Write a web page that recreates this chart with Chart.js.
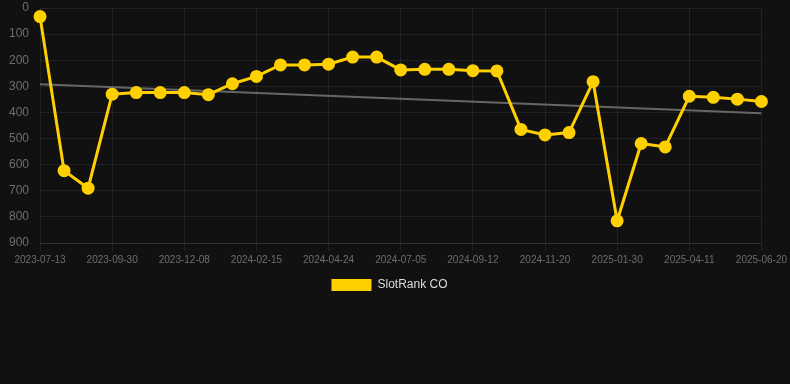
<!DOCTYPE html>
<html>
<head>
<meta charset="utf-8">
<script src="https://cdn.jsdelivr.net/npm/chart.js@4"></script>
<style>
  html, body { margin: 0; padding: 0; background: #111111; }
  #wrap { width: 790px; height: 301px; position: relative; }
</style>
</head>
<body>
<div id="wrap"><canvas id="c"></canvas></div>
<script>
const dates = [
  "2023-07-13","2023-08-08","2023-09-04","2023-09-30","2023-10-23","2023-11-15",
  "2023-12-08","2023-12-31","2024-01-23","2024-02-15","2024-03-09","2024-04-01",
  "2024-04-24","2024-05-18","2024-06-11","2024-07-05","2024-07-28","2024-08-20",
  "2024-09-12","2024-10-05","2024-10-28","2024-11-20","2024-12-14","2025-01-06",
  "2025-01-30","2025-02-23","2025-03-18","2025-04-11","2025-05-04","2025-05-27",
  "2025-06-20"
];
const rankValues = [
  33, 623, 690, 330, 324, 324,
  324, 332, 290, 262, 218, 218,
  215, 188, 188, 237, 235, 235,
  240, 241, 465, 486, 477, 282,
  815, 519, 532, 338, 342, 349,
  358
];
const trendStart = 292;
const trendEnd = 403;
const yTicks = [0,100,200,300,400,500,600,700,800,900];
const seriesName = "SlotRank CO";

const trendData = dates.map((d, i) => i === 0 ? trendStart : (i === dates.length - 1 ? trendEnd : null));

const font = "'Liberation Sans', Arial, Helvetica, sans-serif";
const gridCol = 'rgba(255,255,255,0.07)';

new Chart(document.getElementById('c'), {
  type: 'line',
  data: {
    labels: dates,
    datasets: [
      {
        label: seriesName,
        data: rankValues,
        borderColor: '#FFD000',
        backgroundColor: '#FFD000',
        borderWidth: 3,
        pointRadius: 5,
        pointHoverRadius: 5,
        pointBackgroundColor: '#FFD000',
        pointBorderColor: '#FFD000',
        tension: 0,
        order: 1
      },
      {
        label: 'trend',
        data: trendData,
        spanGaps: true,
        borderColor: '#666666',
        borderWidth: 2,
        pointRadius: 0,
        fill: false,
        order: 2
      }
    ]
  },
  options: {
    responsive: true,
    maintainAspectRatio: false,
    animation: false,
    layout: { padding: { left: 9, right: 20, top: 0, bottom: 0 } },
    plugins: {
      legend: {
        position: 'bottom',
        labels: {
          color: '#dddddd',
          font: { family: font, size: 12 },
          boxWidth: 40,
          boxHeight: 12,
          generateLabels: (chart) => [{
            text: seriesName,
            fillStyle: '#FFD000',
            strokeStyle: '#FFD000',
            lineWidth: 0,
            fontColor: '#dddddd',
            datasetIndex: 0,
            hidden: false
          }]
        }
      },
      tooltip: { enabled: false }
    },
    scales: {
      x: {
        grid: {
          color: (ctx) => (ctx.index % 3 === 0 ? gridCol : 'rgba(0,0,0,0)'),
          tickColor: (ctx) => (ctx.index % 3 === 0 ? gridCol : 'rgba(0,0,0,0)'),
          drawTicks: true
        },
        border: { color: gridCol },
        ticks: {
          autoSkip: false,
          maxRotation: 0,
          color: '#6e6e6e',
          font: { family: font, size: 10 },
          callback: function(val, idx) { return idx % 3 === 0 ? dates[idx] : ''; }
        }
      },
      y: {
        reverse: true,
        min: yTicks[0],
        max: yTicks[yTicks.length - 1],
        grid: { color: gridCol, tickColor: 'rgba(0,0,0,0)', drawTicks: true, tickLength: 11 },
        border: { display: false },
        ticks: {
          stepSize: 100,
          padding: 0,
          color: '#6e6e6e',
          font: { family: font, size: 12, lineHeight: 1 }
        }
      }
    }
  }
});
</script>
</body>
</html>
